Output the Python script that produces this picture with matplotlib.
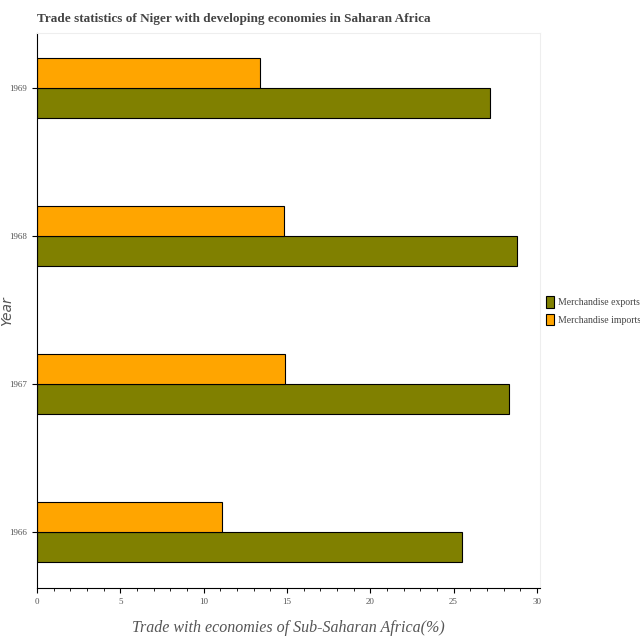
import matplotlib
matplotlib.use('Agg')
import matplotlib.pyplot as plt
import numpy as np
from matplotlib.ticker import MultipleLocator

years = ['1966', '1967', '1968', '1969']
exports = [25.5, 28.3, 28.8, 27.2]
imports = [11.1, 14.9, 14.8, 13.4]

plt.rcParams['font.family'] = ['Liberation Serif', 'DejaVu Serif']

fig = plt.figure(figsize=(6.4, 6.4), dpi=100)
ax = fig.add_axes([0.058, 0.081, 0.786, 0.867])

y = np.arange(len(years))
h = 0.2
ax.barh(y - h / 2, exports, height=h, color='#808000', edgecolor='black',
        linewidth=0.8, label='Merchandise exports')
ax.barh(y + h / 2, imports, height=h, color='#FFA500', edgecolor='black',
        linewidth=0.8, label='Merchandise imports')

ax.set_yticks(y)
ax.set_yticklabels(years)
ax.set_ylim(-0.38, 3.37)
ax.set_xlim(0, 30.2)
ax.xaxis.set_major_locator(MultipleLocator(5))
ax.xaxis.set_minor_locator(MultipleLocator(1))
ax.tick_params(labelsize=6.5, colors='#555555', labelcolor='#555555')
ax.tick_params(axis='both', which='major', color='black')
ax.tick_params(axis='x', which='minor', length=2, color='black')

for s in ['top', 'right']:
    ax.spines[s].set_color('#eeeeee')

ax.set_xlabel('Trade with economies of Sub-Saharan Africa(%)', fontsize=11.5,
              style='italic', color='#555555', labelpad=10)
ax.set_ylabel('Year', fontsize=10, style='italic', color='#555555',
              family='DejaVu Sans')
ax.yaxis.set_label_coords(-0.045, 0.5)
fig.text(0.058, 0.965, 'Trade statistics of Niger with developing economies in Saharan Africa',
         fontsize=9.5, weight='bold', color='#444444')

ax.legend(loc='center left', bbox_to_anchor=(1.0, 0.5), frameon=False,
          fontsize=7, handlelength=0.8, handleheight=1.5, labelcolor='#444444',
          handletextpad=0.4, borderaxespad=0.2, labelspacing=0.6)

fig.savefig('out.png')
